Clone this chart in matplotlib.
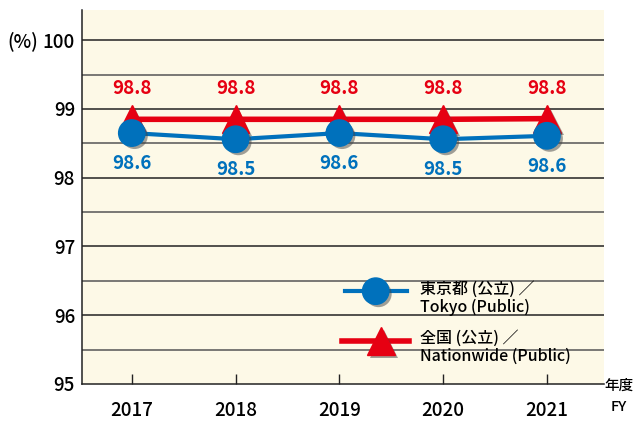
"""Tokyo vs nationwide rate chart"""
import matplotlib
matplotlib.use("Agg")
import matplotlib.pyplot as plt
import matplotlib.patheffects as pe

plt.rcParams['font.family'] = ['Noto Sans CJK JP', 'DejaVu Sans']
plt.rcParams['font.weight'] = 'medium'

# Данные
years = ['2017', '2018', '2019', '2020', '2021']
tokyo = [98.65, 98.56, 98.65, 98.56, 98.61]
tokyo_labels = ['98.6', '98.5', '98.6', '98.5', '98.6']
nation = [98.85, 98.85, 98.85, 98.85, 98.86]
nation_labels = ['98.8', '98.8', '98.8', '98.8', '98.8']

blue = '#0071BC'
red = '#E60012'

fig = plt.figure(figsize=(6.33, 4.22), dpi=100)
ax = fig.add_axes([82 / 633, 1 - 384 / 422, (604 - 82) / 633, (384 - 10) / 422])
ax.set_facecolor('#FDF9E7')

x = list(range(len(years)))
shadow = [pe.SimplePatchShadow(offset=(2, -2), shadow_rgbFace='#444444', alpha=0.5), pe.Normal()]

# линии сетки
for v in [95.5, 96, 96.5, 97, 97.5, 98, 98.5, 99, 99.5, 100]:
    ax.axhline(v, color='#222222' if v == int(v) else '#555555', lw=1.1, zorder=1)

ax.plot(x, nation, color=red, lw=4, zorder=3)
ax.plot(x, nation, ls='none', marker='^', ms=20, color=red, zorder=4, path_effects=shadow)
ax.plot(x, tokyo, color=blue, lw=3, zorder=5)
ax.plot(x, tokyo, ls='none', marker='o', ms=19, color=blue, zorder=6, path_effects=shadow)

for xi, v, t in zip(x, nation, nation_labels):
    ax.annotate(t, (xi, v), xytext=(0, 22), textcoords='offset points', ha='center', va='center',
                color=red, fontsize=13.5, fontweight='bold')
for xi, v, t in zip(x, tokyo, tokyo_labels):
    ax.annotate(t, (xi, v), xytext=(0, -22), textcoords='offset points', ha='center', va='center',
                color=blue, fontsize=13.5, fontweight='bold')

ax.set_xlim(-0.48, 4.55)
ax.set_ylim(95, 100.44)
ax.set_xticks(x)
ax.set_xticklabels(years, fontsize=13.5)
ax.set_yticks([95, 96, 97, 98, 99, 100])
ax.set_yticklabels(['95', '96', '97', '98', '99', '100'], fontsize=13.5)
ax.tick_params(axis='x', direction='in', length=7, width=1, pad=12, color='#222222')
ax.tick_params(axis='y', length=0, pad=5)
for s in ['top', 'right']:
    ax.spines[s].set_visible(False)
ax.spines['left'].set_color('#222222')
ax.spines['bottom'].set_color('#222222')
ax.spines['left'].set_linewidth(1.1)
ax.spines['bottom'].set_linewidth(1.1)

fig.text(7 / 633, 1 - 41 / 422, '(%)', fontsize=13.5, va='center', ha='left')
fig.text(619 / 633, 1 - 386 / 422, '年度', fontsize=10.5, va='center', ha='center')
fig.text(619 / 633, 1 - 407 / 422, 'FY', fontsize=10.5, va='center', ha='center')

# Легенда вручную
ax.plot([2.05, 2.65], [96.35, 96.35], color=blue, lw=3, zorder=5)
ax.plot([2.35], [96.35], marker='o', ms=19, color=blue, zorder=6, path_effects=shadow)
ax.plot([2.03, 2.67], [95.62, 95.62], color=red, lw=4, zorder=3)
ax.plot([2.4], [95.62], marker='^', ms=20, color=red, zorder=4, path_effects=shadow)
ax.text(2.78, 96.24, '東京都 (公立) ／\nTokyo (Public)', fontsize=11.5, va='center', ha='left', linespacing=1.1)
ax.text(2.78, 95.53, '全国 (公立) ／\nNationwide (Public)', fontsize=11.5, va='center', ha='left', linespacing=1.1)

fig.savefig('out.png', dpi=100)
